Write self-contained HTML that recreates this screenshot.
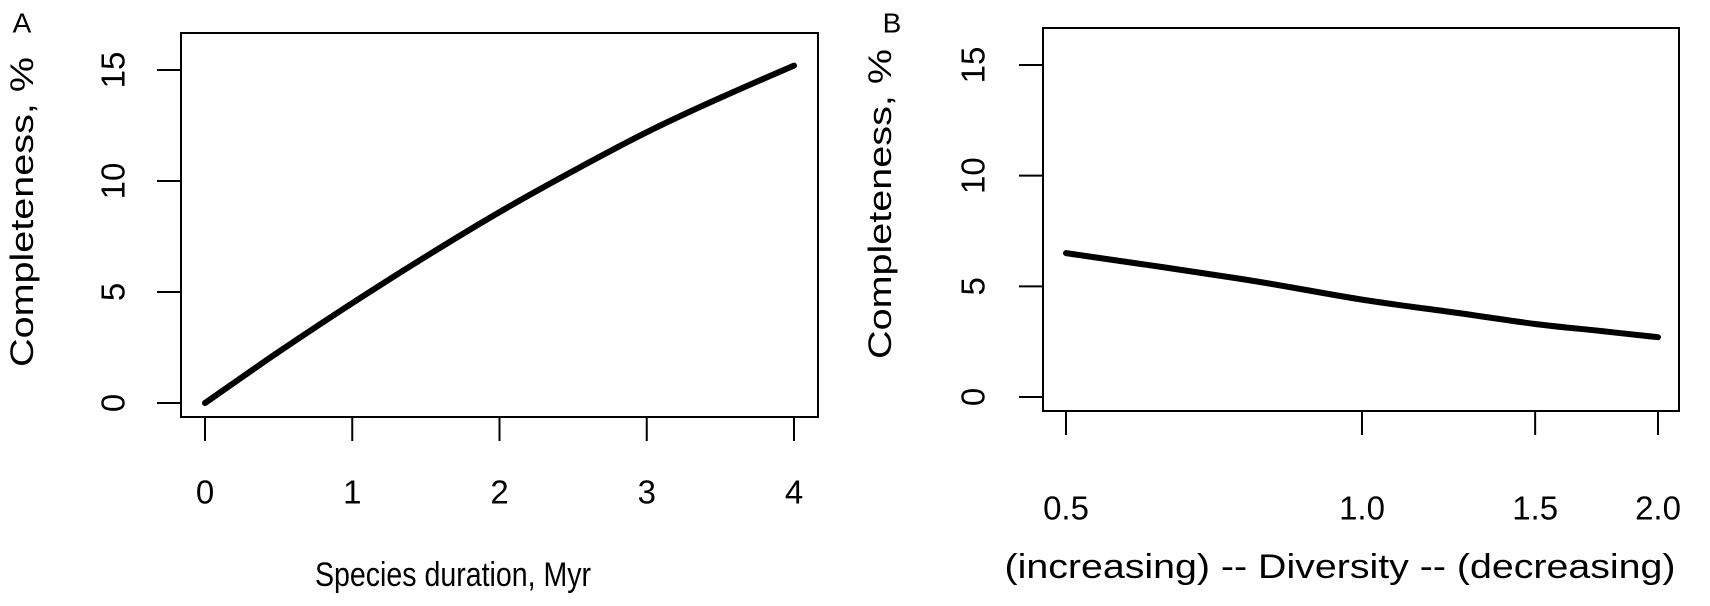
<!DOCTYPE html>
<html><head><meta charset="utf-8"><style>
html,body{margin:0;padding:0;background:#fff;}
svg{display:block;font-family:"Liberation Sans",Arial,sans-serif;}
</style></head><body>
<svg id="chart" width="1710" height="606" viewBox="0 0 1710 606" xmlns="http://www.w3.org/2000/svg"></svg>
<script>
const aX = [0, 0.5, 1, 1.5, 2, 2.5, 3, 3.5, 4];
const aY = [0, 2.3, 4.5, 6.6, 8.6, 10.45, 12.2, 13.75, 15.2];
const aXTicks = [0, 1, 2, 3, 4];
const yTicks = [0, 5, 10, 15];
const bX = [0.5, 0.75, 1.0, 1.25, 1.5, 1.75, 2.0];
const bY = [6.5, 5.35, 4.4, 3.8, 3.3, 2.98, 2.7];
const bXTicks = [0.5, 1.0, 1.5, 2.0];
const bXTickLabels = ["0.5", "1.0", "1.5", "2.0"];

const NS = "http://www.w3.org/2000/svg";
const svg = document.getElementById('chart');
function mk(tag, attrs, parent, text) {
  const e = document.createElementNS(NS, tag);
  for (const k in attrs) e.setAttribute(k, attrs[k]);
  if (text !== undefined) e.textContent = text;
  (parent || svg).appendChild(e);
  return e;
}

const axA = v => 205 + (v - 0) * (794 - 205) / 4;
const ayA = v => 403 - v * (403 - 70) / 15;
const axB = v => 1066 + (Math.log(v) - Math.log(0.5)) * (1658 - 1066) / (Math.log(2) - Math.log(0.5));
const ayB = v => 397 - v * (397 - 65) / 15;

function smoothPath(pts) {
  let d = 'M' + pts[0][0].toFixed(1) + ',' + pts[0][1].toFixed(1);
  for (let i = 0; i < pts.length - 1; i++) {
    const p0 = pts[Math.max(0, i - 1)], p1 = pts[i], p2 = pts[i + 1], p3 = pts[Math.min(pts.length - 1, i + 2)];
    const c1 = [p1[0] + (p2[0] - p0[0]) / 6, p1[1] + (p2[1] - p0[1]) / 6];
    const c2 = [p2[0] - (p3[0] - p1[0]) / 6, p2[1] - (p3[1] - p1[1]) / 6];
    d += ' C' + c1.map(n => n.toFixed(1)).join(',') + ' ' + c2.map(n => n.toFixed(1)).join(',') + ' ' + p2.map(n => n.toFixed(1)).join(',');
  }
  return d;
}

function panel(p) {
  const g = mk('g', {});
  
  
  const box = mk('rect', {x: p.l, y: p.t, width: p.r - p.l, height: p.b - p.t, fill: 'none', stroke: '#000', 'stroke-width': 2}, g);
  
  
  yTicks.forEach(v => {
    const y = p.sy(v);
    const t = mk('line', {x1: p.l - 24, x2: p.l, y1: y, y2: y, stroke: '#000', 'stroke-width': 2}, g);
    
    
    const lab = mk('text', {x: 0, y: 0, 'font-size': 33, 'text-anchor': 'middle', 'dominant-baseline': 'central', transform: `translate(${p.ylx},${y}) rotate(-90)`}, g, String(v));
    
    
  });
  p.xt.forEach((v, i) => {
    const x = p.sx(v);
    const t = mk('line', {x1: x, x2: x, y1: p.b, y2: p.b + 24, stroke: '#000', 'stroke-width': 2}, g);
    
    
    const lab = mk('text', {x: x, y: p.xly, 'font-size': 33, 'text-anchor': 'middle', 'dominant-baseline': 'central'}, g, p.xl[i]);
    
    
  });
  const pts = p.xs.map((v, i) => [p.sx(v), p.sy(p.ys[i])]);
  const path = mk('path', {d: smoothPath(pts), fill: 'none', stroke: '#000', 'stroke-width': 6, 'stroke-linecap': 'round', 'stroke-linejoin': 'round'}, g);
  
  
  const xt = mk('text', {x: p.xtc, y: p.xty, 'font-size': 34, 'text-anchor': 'middle', 'dominant-baseline': 'central', textLength: p.xtw, lengthAdjust: 'spacingAndGlyphs'}, g, p.xtitle);
  
  
  const yt = mk('text', {x: 0, y: 0, 'font-size': 32, 'text-anchor': 'middle', 'dominant-baseline': 'central', textLength: p.ytw, lengthAdjust: 'spacingAndGlyphs', transform: `translate(${p.ytx},${p.ytc}) rotate(-90)`}, g, 'Completeness, %');
  
  
  const pl = mk('text', {x: p.plx, y: 23, 'font-size': 28, 'text-anchor': 'middle', 'dominant-baseline': 'central'}, g, p.letter);
  
  
}

panel({name: 'panel-a', l: 181, r: 818, t: 33, b: 417, sx: axA, sy: ayA,
  xt: aXTicks, xl: aXTicks.map(String), xs: aX, ys: aY, ylx: 113, xly: 492,
  xtitle: 'Species duration, Myr', xtc: 453, xty: 575, xtw: 276, ytx: 22, ytc: 212, ytw: 310,
  letter: 'A', plx: 22});
panel({name: 'panel-b', l: 1043, r: 1679, t: 28, b: 411, sx: axB, sy: ayB,
  xt: bXTicks, xl: bXTickLabels, xs: bX, ys: bY, ylx: 973, xly: 508,
  xtitle: '(increasing) -- Diversity -- (decreasing)', xtc: 1340, xty: 567, xtw: 671, ytx: 880, ytc: 204, ytw: 310,
  letter: 'B', plx: 892});
</script>
</body></html>
